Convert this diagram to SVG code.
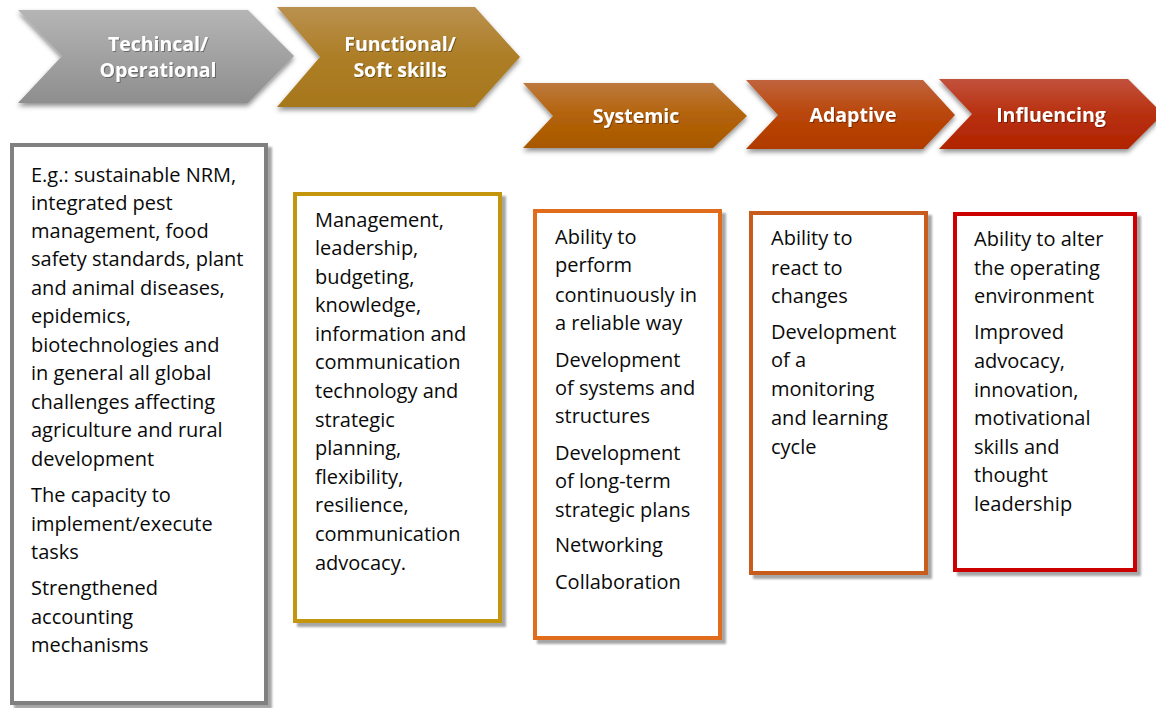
<svg xmlns="http://www.w3.org/2000/svg" width="1156" height="708" viewBox="0 0 1156 708">
<defs>
<linearGradient id="gGray" x1="0" y1="0" x2="0" y2="1"><stop offset="0" stop-color="#b5b5b5"/><stop offset="1" stop-color="#8e8e8e"/></linearGradient>
<linearGradient id="gGold" x1="0" y1="0" x2="0" y2="1"><stop offset="0" stop-color="#ba914f"/><stop offset="0.5" stop-color="#ad7e26"/><stop offset="1" stop-color="#a7771d"/></linearGradient>
<linearGradient id="gSys" x1="0" y1="0" x2="0" y2="1"><stop offset="0" stop-color="#bd7a3e"/><stop offset="0.5" stop-color="#b36209"/><stop offset="1" stop-color="#a85800"/></linearGradient>
<linearGradient id="gAda" x1="0" y1="0" x2="0" y2="1"><stop offset="0" stop-color="#c0643e"/><stop offset="0.5" stop-color="#b94608"/><stop offset="1" stop-color="#b03a00"/></linearGradient>
<linearGradient id="gInf" x1="0" y1="0" x2="0" y2="1"><stop offset="0" stop-color="#c2523c"/><stop offset="0.5" stop-color="#b83010"/><stop offset="1" stop-color="#b02400"/></linearGradient>
<filter id="chevShadow" x="-10%" y="-20%" width="120%" height="150%"><feDropShadow dx="0" dy="3" stdDeviation="2.5" flood-color="#000" flood-opacity="0.45"/></filter>
<filter id="boxShadow" x="-10%" y="-10%" width="120%" height="120%"><feDropShadow dx="4" dy="4" stdDeviation="1" flood-color="#000" flood-opacity="0.35"/></filter>
<filter id="txtShadow" x="-10%" y="-20%" width="120%" height="150%"><feDropShadow dx="1" dy="1" stdDeviation="0.6" flood-color="#000" flood-opacity="0.35"/></filter>
</defs>
<style>
.hd{font-family:"Open Sans","Noto Sans","Liberation Sans",sans-serif;font-weight:bold;font-size:19.5px;fill:#ffffff;text-anchor:middle;filter:url(#txtShadow)}
.bx{fill:#ffffff;stroke-width:4;filter:url(#boxShadow)}
.tx{font-family:"Open Sans","Noto Sans","Liberation Sans",sans-serif;font-size:20px;fill:#0a0a0a}
</style>
<rect width="1156" height="708" fill="#ffffff"/>

<g id="chev-technical">
<polygon points="18,10 248,10 294,56 248,103 18,103 62,56" fill="url(#gGray)" filter="url(#chevShadow)"/>
<text class="hd" x="158" y="51">Techincal/</text>
<text class="hd" x="158" y="77">Operational</text>
</g>
<g id="chev-functional">
<polygon points="277,7 475,7 520,57 475,107 277,107 320,57" fill="url(#gGold)" filter="url(#chevShadow)"/>
<text class="hd" x="400" y="51">Functional/</text>
<text class="hd" x="400" y="77">Soft skills</text>
</g>
<g id="chev-systemic">
<polygon points="523,83 713,83 747,116 713,148 523,148 553,116" fill="url(#gSys)" filter="url(#chevShadow)"/>
<text class="hd" x="636" y="123">Systemic</text>
</g>
<g id="chev-adaptive">
<polygon points="746,80 923,80 955,115 923,149 746,149 778,115" fill="url(#gAda)" filter="url(#chevShadow)"/>
<text class="hd" x="853" y="122">Adaptive</text>
</g>
<g id="chev-influencing">
<polygon points="939,79 1128,79 1163,114 1128,149 939,149 972,114" fill="url(#gInf)" filter="url(#chevShadow)"/>
<text class="hd" x="1051" y="122">Influencing</text>
</g>

<g id="box-technical">
<rect class="bx" x="12" y="145" width="254" height="558" stroke="#808080"/>
<text class="tx" x="31">
<tspan x="31" y="182">E.g.: sustainable NRM,</tspan>
<tspan x="31" y="210">integrated pest</tspan>
<tspan x="31" y="238">management, food</tspan>
<tspan x="31" y="266">safety standards, plant</tspan>
<tspan x="31" y="295">and animal diseases,</tspan>
<tspan x="31" y="323">epidemics,</tspan>
<tspan x="31" y="352">biotechnologies and</tspan>
<tspan x="31" y="380">in general all global</tspan>
<tspan x="31" y="409">challenges affecting</tspan>
<tspan x="31" y="437">agriculture and rural</tspan>
<tspan x="31" y="466">development</tspan>
<tspan x="31" y="502">The capacity to</tspan>
<tspan x="31" y="531">implement/execute</tspan>
<tspan x="31" y="559">tasks</tspan>
<tspan x="31" y="595">Strengthened</tspan>
<tspan x="31" y="624">accounting</tspan>
<tspan x="31" y="652">mechanisms</tspan>
</text>
</g>

<g id="box-functional">
<rect class="bx" x="295" y="194" width="205" height="427" stroke="#c4960c"/>
<text class="tx">
<tspan x="315" y="227">Management,</tspan>
<tspan x="315" y="255">leadership,</tspan>
<tspan x="315" y="284">budgeting,</tspan>
<tspan x="315" y="312">knowledge,</tspan>
<tspan x="315" y="341">information and</tspan>
<tspan x="315" y="369">communication</tspan>
<tspan x="315" y="398">technology and</tspan>
<tspan x="315" y="427">strategic</tspan>
<tspan x="315" y="455">planning,</tspan>
<tspan x="315" y="484">flexibility,</tspan>
<tspan x="315" y="512">resilience,</tspan>
<tspan x="315" y="541">communication</tspan>
<tspan x="315" y="570">advocacy.</tspan>
</text>
</g>

<g id="box-systemic">
<rect class="bx" x="535" y="211" width="185" height="427" stroke="#e06c1c"/>
<text class="tx">
<tspan x="555" y="244">Ability to</tspan>
<tspan x="555" y="272">perform</tspan>
<tspan x="555" y="302">continuously in</tspan>
<tspan x="555" y="330">a reliable way</tspan>
<tspan x="555" y="367">Development</tspan>
<tspan x="555" y="395">of systems and</tspan>
<tspan x="555" y="423">structures</tspan>
<tspan x="555" y="460">Development</tspan>
<tspan x="555" y="488">of long-term</tspan>
<tspan x="555" y="517">strategic plans</tspan>
<tspan x="555" y="552">Networking</tspan>
<tspan x="555" y="589">Collaboration</tspan>
</text>
</g>

<g id="box-adaptive">
<rect class="bx" x="751" y="213" width="175" height="360" stroke="#c85c1e"/>
<text class="tx">
<tspan x="771" y="245">Ability to</tspan>
<tspan x="771" y="275">react to</tspan>
<tspan x="771" y="303">changes</tspan>
<tspan x="771" y="339">Development</tspan>
<tspan x="771" y="367">of a</tspan>
<tspan x="771" y="396">monitoring</tspan>
<tspan x="771" y="425">and learning</tspan>
<tspan x="771" y="454">cycle</tspan>
</text>
</g>

<g id="box-influencing">
<rect class="bx" x="955" y="214" width="180" height="356" stroke="#cc0000"/>
<text class="tx">
<tspan x="974" y="246">Ability to alter</tspan>
<tspan x="974" y="275">the operating</tspan>
<tspan x="974" y="303">environment</tspan>
<tspan x="974" y="339">Improved</tspan>
<tspan x="974" y="368">advocacy,</tspan>
<tspan x="974" y="397">innovation,</tspan>
<tspan x="974" y="425">motivational</tspan>
<tspan x="974" y="454">skills and</tspan>
<tspan x="974" y="482">thought</tspan>
<tspan x="974" y="511">leadership</tspan>
</text>
</g>

<g id="connectors"></g>
</svg>
